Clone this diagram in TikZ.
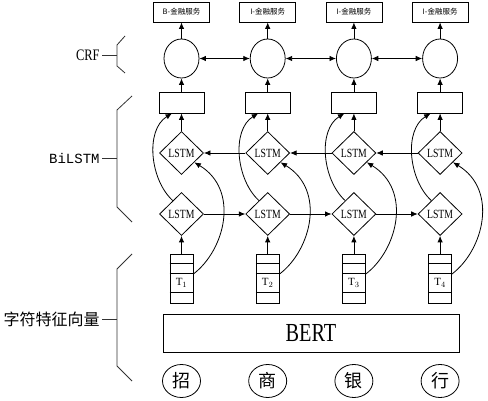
\documentclass[tikz,border=0pt]{standalone}
\usepackage{fontspec}
\setmainfont{Liberation Serif}
\newfontfamily\cjk{Noto Sans CJK SC}
\newfontfamily\cond[FakeStretch=0.78]{Liberation Serif}
\newfontfamily\mono{Liberation Mono}
\usetikzlibrary{shapes.geometric,arrows.meta}
\begin{document}
\begin{tikzpicture}[x=1pt,y=-1pt,line width=0.8pt,
 arr/.style={-{Latex[length=6.5pt,width=5.5pt]}},
 darr/.style={{Latex[length=6.5pt,width=5.5pt]}-{Latex[length=6.5pt,width=5.5pt]}},
 topbox/.style={draw,minimum width=56pt,minimum height=20pt,inner sep=0pt,font=\cjk\fontsize{7.5}{8}\selectfont},
 crf/.style={draw,ellipse,minimum width=35pt,minimum height=39pt,inner sep=0pt},
 hbox/.style={draw,minimum width=45pt,minimum height=21pt,inner sep=0pt},
 lstm/.style={draw,diamond,minimum width=44pt,minimum height=43pt,inner sep=0pt,font=\cond\fontsize{12.5}{13}\selectfont},
 tstack/.style={draw,minimum width=23pt,minimum height=49pt,inner sep=0pt},
 word/.style={draw,ellipse,minimum width=38pt,minimum height=33pt,inner sep=0pt,font=\cjk\fontsize{18}{20}\selectfont},
 brace/.style={line width=0.8pt,draw=black!80},
 side/.style={anchor=east,inner sep=1pt}]
\useasboundingbox (0,0) rectangle (488,401);
\foreach \i/\lab/\w in {1/B/招,2/I/商,3/I/银,4/I/行}{
  \pgfmathsetmacro{\x}{181.5+86.2*(\i-1)}
  \node[topbox] (b\i) at (\x,12) {\lab-金融服务};
  \node[crf] (c\i) at (\x,58.5) {};
  \node[hbox] (r\i) at (\x,102.5) {};
  \node[lstm] (u\i) at (\x,153) {LSTM};
  \node[lstm] (l\i) at (\x,214) {LSTM};
  \node[tstack] (t\i) at (\x,278.5) {};
  \node[word] (w\i) at (\x,381) {\w};
  \draw ([yshift=-10pt]t\i.north west) -- ([yshift=-10pt]t\i.north east);
  \draw ([yshift=-20pt]t\i.north west) -- ([yshift=-20pt]t\i.north east);
  \draw ([yshift=-39pt]t\i.north west) -- ([yshift=-39pt]t\i.north east);
  \node[inner sep=0pt,font=\fontsize{11}{12}\selectfont] (tl\i) at ([yshift=-29.5pt]t\i.north) {$\mathrm{T}_{\i}$};
  \draw[arr] (c\i.north) -- (b\i.south);
  \draw[arr] (r\i.north) -- (c\i.south);
  \draw[arr] (u\i.north) -- (r\i.south);
  \draw[arr] (t\i.north) -- (l\i.south);
  \draw[arr] (l\i.123) .. controls (\x-31.5,180) and (\x-36.5,130) .. ([xshift=-9.5pt]r\i.south);
  \draw[arr] ([yshift=4.5pt]t\i.east) .. controls (\x+43.5,250) and (\x+58.5,190) .. (u\i.-36);
}
\foreach \a/\b in {1/2,2/3,3/4}{
  \draw[darr] (c\a.east) -- (c\b.west);
  \draw[arr] (u\b.west) -- (u\a.east);
  \draw[arr] (l\a.east) -- (l\b.west);
}
\node[draw,minimum width=296pt,minimum height=38pt,inner sep=0pt,font=\cond\fontsize{26}{28}\selectfont] (bert) at (311,333) {BERT};
% side braces
\draw[brace] (125,36) -- (117,45) -- (117,66) -- (125,73);
\draw[brace] (102,55) -- (117,55);
\node[side,font=\cond\fontsize{16}{18}\selectfont] (lcrf) at (101,55) {CRF};
\draw[brace] (132,96) -- (117,110) -- (117,207) -- (132,222);
\draw[brace] (102,158) -- (117,158);
\node[side,font=\mono\fontsize{14}{16}\selectfont] (lbi) at (101,158) {BiLSTM};
\draw[brace] (132,254) -- (117,269) -- (117,366) -- (132,381);
\draw[brace] (102,319) -- (117,319);
\node[side,font=\cjk\fontsize{16}{18}\selectfont] (lfeat) at (101,319) {字符特征向量};
\end{tikzpicture}
\end{document}
